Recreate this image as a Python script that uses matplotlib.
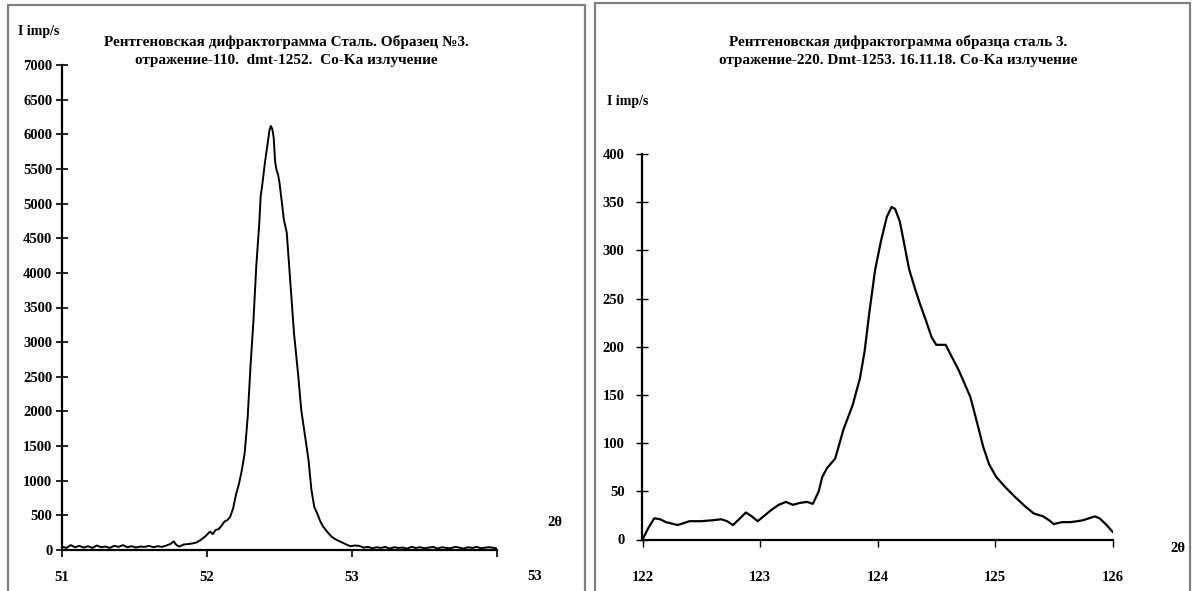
import matplotlib
matplotlib.use("Agg")
import matplotlib.pyplot as plt
from matplotlib.patches import Rectangle

# ---------------- data ----------------
left_title = "Рентгеновская дифрактограмма Сталь. Образец №3.\nотражение-110.  dmt-1252.  Co-Ka излучение"
right_title = "Рентгеновская дифрактограмма образца сталь 3.\nотражение-220. Dmt-1253. 16.11.18. Co-Ka излучение"
y_label = "I imp/s"
x_label = "2θ"

left_2theta = [51.00, 51.03, 51.06, 51.09, 51.12, 51.15, 51.18, 51.21, 51.24, 51.27,
               51.30, 51.33, 51.36, 51.39, 51.42, 51.45, 51.48, 51.51, 51.54, 51.57,
               51.60, 51.63, 51.66, 51.69, 51.72, 51.75, 51.77, 51.79, 51.81, 51.84,
               51.87, 51.90, 51.93, 51.96, 51.99, 52.02, 52.04, 52.06, 52.08, 52.10,
               52.12, 52.14, 52.16, 52.18, 52.20, 52.22, 52.24, 52.26, 52.28, 52.30,
               52.32, 52.34, 52.36, 52.37, 52.38, 52.40, 52.42, 52.43, 52.44, 52.45,
               52.46, 52.47, 52.48, 52.49, 52.50, 52.52, 52.53, 52.55, 52.57, 52.60,
               52.63, 52.65, 52.68, 52.70, 52.72, 52.74, 52.76, 52.78, 52.80, 52.83,
               52.86, 52.89, 52.92, 52.95, 52.97, 52.99, 53.02, 53.05, 53.08, 53.11,
               53.14, 53.17, 53.20, 53.23, 53.26, 53.29, 53.32, 53.35, 53.38, 53.41,
               53.44, 53.47, 53.50, 53.53, 53.56, 53.59, 53.62, 53.65, 53.68, 53.71,
               53.74, 53.77, 53.80, 53.83, 53.86, 53.89, 53.92, 53.95, 53.98, 54.00]
left_intensity = [50, 30, 70, 40, 60, 35, 55, 30, 65, 40,
                  50, 30, 60, 45, 70, 40, 55, 35, 50, 45,
                  60, 40, 55, 45, 65, 90, 125, 70, 50, 80,
                  85, 95, 110, 150, 200, 265, 230, 290, 300, 350,
                  410, 430, 480, 600, 800, 950, 1150, 1400, 1900, 2650,
                  3300, 4100, 4700, 5100, 5250, 5600, 5890, 6050, 6120, 6080,
                  5950, 5600, 5480, 5420, 5300, 4950, 4770, 4580, 4000, 3130,
                  2500, 2020, 1590, 1300, 870, 620, 530, 420, 340, 260,
                  190, 150, 120, 90, 70, 55, 65, 60, 35, 45,
                  25, 40, 30, 45, 20, 40, 30, 35, 20, 45,
                  30, 40, 25, 35, 45, 20, 40, 30, 25, 45,
                  35, 20, 40, 30, 45, 25, 35, 40, 30, 20]

right_2theta = [122.00, 122.05, 122.10, 122.15, 122.20, 122.30, 122.40, 122.50, 122.60, 122.67,
                122.72, 122.77, 122.83, 122.88, 122.93, 122.98, 123.04, 123.10, 123.16, 123.22,
                123.28, 123.34, 123.40, 123.45, 123.50, 123.53, 123.57, 123.64, 123.71, 123.79,
                123.85, 123.89, 123.93, 123.98, 124.03, 124.08, 124.12, 124.15, 124.19, 124.23,
                124.27, 124.32, 124.36, 124.41, 124.46, 124.50, 124.58, 124.63, 124.69, 124.74,
                124.79, 124.85, 124.90, 124.95, 125.01, 125.09, 125.18, 125.26, 125.33, 125.41,
                125.46, 125.50, 125.57, 125.64, 125.70, 125.75, 125.80, 125.85, 125.89, 125.95,
                126.00]
right_intensity = [0, 12, 22, 21, 18, 15, 19, 19, 20, 21,
                   19, 15, 22, 28, 24, 19, 25, 31, 36, 39,
                   36, 38, 39, 37, 50, 65, 74, 84, 114, 140,
                   167, 195, 235, 280, 310, 335, 345, 343, 330, 305,
                   280, 260, 245, 228, 210, 202, 202, 190, 176, 162,
                   148, 120, 96, 78, 65, 54, 43, 34, 27, 24,
                   20, 16, 18, 18, 19, 20, 22, 24, 22, 15,
                   8]

left_yticks = [0, 500, 1000, 1500, 2000, 2500, 3000, 3500, 4000, 4500, 5000, 5500, 6000, 6500, 7000]
left_xticks = [51, 52, 53, 54]
left_xticklabels = ["51", "52", "53", "53"]
right_yticks = [0, 50, 100, 150, 200, 250, 300, 350, 400]
right_xticks = [122, 123, 124, 125, 126]
right_xticklabels = ["122", "123", "124", "125", "126"]

# ---------------- figure ----------------
W, H = 1194, 591
fig = plt.figure(figsize=(W / 100, H / 100), dpi=100)
fig.patch.set_facecolor("white")
FONT = "Liberation Serif"


def fx(px):
    return px / W


def fy(py):
    return 1 - py / H


# frames
for (x0, y0, x1, y1) in [(8, 5, 585, 600), (595, 3, 1190, 600)]:
    fig.patches.append(Rectangle((fx(x0), fy(y1)), fx(x1) - fx(x0), fy(y0) - fy(y1),
                                 transform=fig.transFigure, fill=False,
                                 edgecolor="#808080", linewidth=1.6))

# left axes
axL = fig.add_axes([fx(62), fy(550), fx(497) - fx(62), fy(65) - fy(550)])
axL.plot(left_2theta, left_intensity, color="black", linewidth=1.4)
axL.set_xlim(51, 54)
axL.set_ylim(0, 7000)
axL.set_yticks(left_yticks)
axL.set_xticks(left_xticks)
axL.set_xticklabels(left_xticklabels[:3] + [""])
axL.annotate(left_xticklabels[3], xy=(54, 0), xycoords=("data", "axes fraction"),
             xytext=(38, -27), textcoords="offset pixels", ha="center", va="center",
             fontfamily=FONT, fontweight="bold", fontsize=10.5)
axL.tick_params(axis="y", direction="inout", length=8, width=1.2, pad=3)
axL.tick_params(axis="x", direction="out", length=5, width=1.2, pad=10)

# right axes
axR = fig.add_axes([fx(642.5), fy(539.5), fx(1112.5) - fx(642.5), fy(154) - fy(539.5)])
axR.plot(right_2theta, right_intensity, color="black", linewidth=1.6)
axR.set_xlim(122, 126)
axR.set_ylim(0, 400)
axR.set_yticks(right_yticks)
axR.set_xticks(right_xticks)
axR.set_xticklabels(right_xticklabels)
axR.tick_params(axis="y", direction="inout", length=8, width=1.0, pad=9)
axR.tick_params(axis="x", direction="out", length=5, width=1.0, pad=18)

for ax in (axL, axR):
    ax.spines["top"].set_visible(False)
    ax.spines["right"].set_visible(False)
    ax.spines["left"].set_linewidth(1.6)
    ax.spines["bottom"].set_linewidth(1.6)
    ax.set_facecolor("white")
    for lab in ax.get_xticklabels() + ax.get_yticklabels():
        lab.set_fontfamily(FONT)
        lab.set_fontweight("bold")
        lab.set_fontsize(10.5)

# titles and axis labels
fig.text(fx(286), fy(51), left_title, ha="center", va="center", fontfamily=FONT,
         fontweight="bold", fontsize=11, linespacing=1.55)
fig.text(fx(898), fy(51), right_title, ha="center", va="center", fontfamily=FONT,
         fontweight="bold", fontsize=11, linespacing=1.55)
fig.text(fx(18), fy(31), y_label, ha="left", va="center", fontfamily=FONT,
         fontweight="bold", fontsize=10)
fig.text(fx(607), fy(101), y_label, ha="left", va="center", fontfamily=FONT,
         fontweight="bold", fontsize=10)
fig.text(fx(555), fy(522), x_label, ha="center", va="center", fontfamily=FONT,
         fontweight="bold", fontsize=10.5)
fig.text(fx(1178), fy(549), x_label, ha="center", va="center", fontfamily=FONT,
         fontweight="bold", fontsize=10.5)

fig.savefig("out.png", dpi=100, facecolor="white")
